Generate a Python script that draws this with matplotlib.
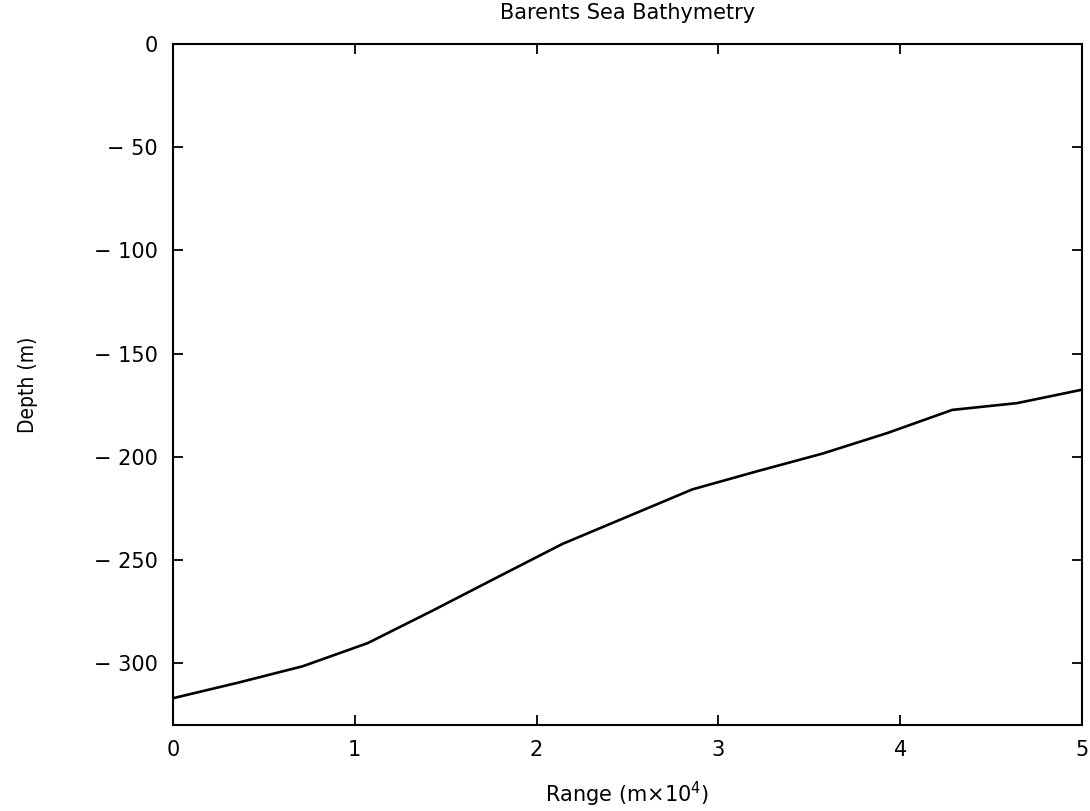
import numpy as np
import matplotlib
matplotlib.use('Agg')
import matplotlib.pyplot as plt

# range in units of 1e4 m, depth in m
range_km = [0.0, 0.357, 0.714, 1.071, 1.429, 1.786, 2.143, 2.5,
            2.857, 3.214, 3.571, 3.929, 4.286, 4.643, 5.0]
depth = [-317.0, -309.5, -301.5, -290.3, -274.5, -258.3, -242.2, -229.0,
         -215.8, -207.0, -198.5, -188.5, -177.3, -174.0, -167.5]

xticks = [0, 1, 2, 3, 4, 5]
yticks = [0, -50, -100, -150, -200, -250, -300]

fig = plt.figure(figsize=(10.9, 8.11), dpi=100)
ax = fig.add_axes([0.1587, 0.106, 0.834, 0.8397])

ax.plot(range_km, depth, color='black', linewidth=1.9)

ax.set_xlim(0, 5)
ax.set_ylim(-330, 0)
ax.set_xticks(xticks)
ax.set_yticks(yticks)
ax.set_xticklabels([str(t) for t in xticks])
ax.set_yticklabels(['\u2212 ' + str(-t) if t < 0 else str(t) for t in yticks])

ax.tick_params(direction='in', length=7, width=1.3, top=True, right=True,
               labelsize=15, pad=11)
for sp in ax.spines.values():
    sp.set_linewidth(1.5)

ax.set_title('Barents Sea Bathymetry', fontsize=15, pad=18)
ax.set_xlabel('Range (m\u00d710$^4$)', fontsize=15, labelpad=14)
ax.set_ylabel('Depth (m)', fontsize=15, fontstretch='condensed')
ax.yaxis.set_label_coords(-0.148, 0.5)

fig.savefig('out.png', dpi=100, facecolor='white')
